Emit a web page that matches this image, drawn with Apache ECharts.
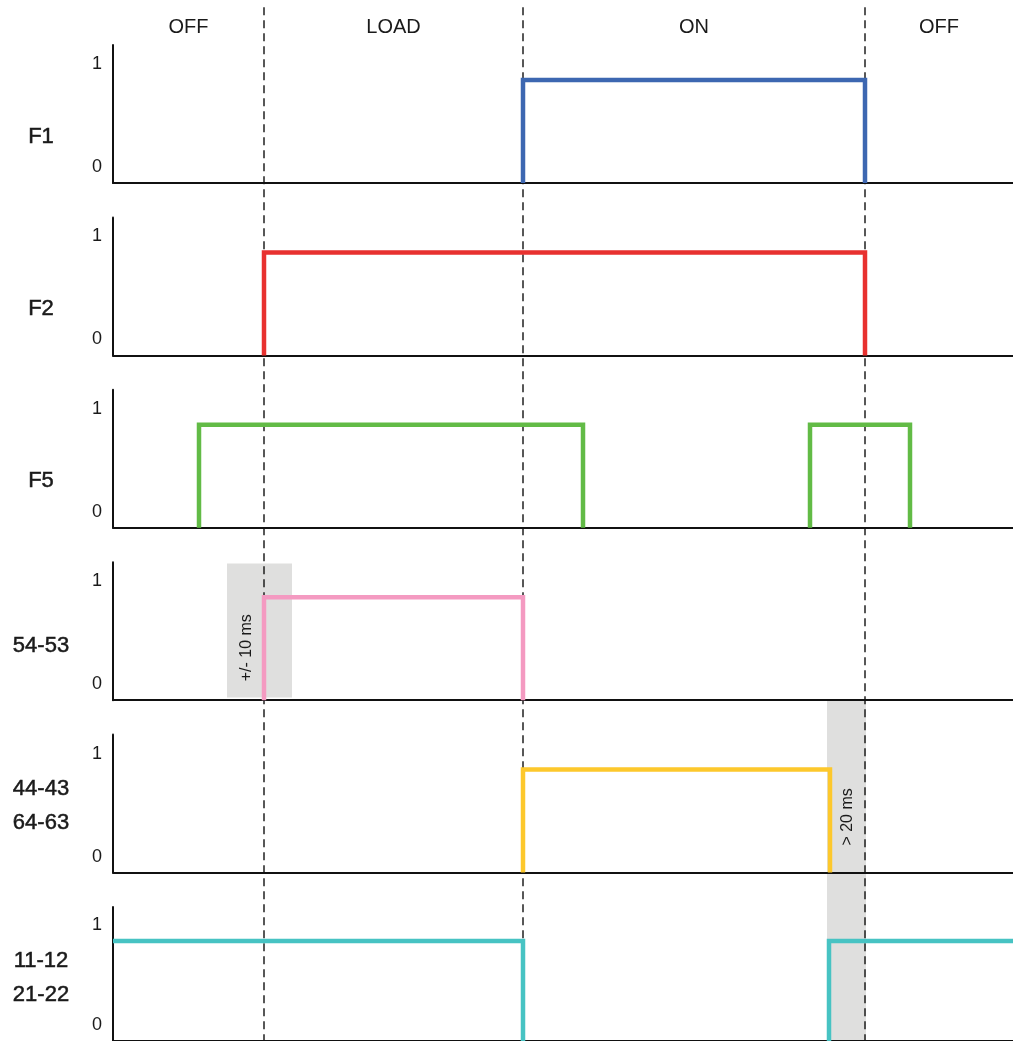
<!DOCTYPE html>
<html>
<head>
<meta charset="utf-8">
<script src="https://cdn.jsdelivr.net/npm/echarts@6/dist/echarts.min.js"></script>
<style>html,body{margin:0;padding:0;background:#fff}#c{width:1013px;height:1041px}</style>
</head>
<body>
<div id="c"></div>
<script>
// ---- data (time units along x; 0..900) ----
const xMin = 0, xMax = 900;
const phaseEdges = [151, 410, 752];
const phaseNames = ['OFF', 'LOAD', 'ON', 'OFF'];
const panelNames = ['F1', 'F2', 'F5', '54-53', '44-43\n64-63', '11-12\n21-22'];
const levelTicks = [0, 1];
const f1Pulses = [[410, 752]];
const f2Pulses = [[151, 752]];
const f5Pulses = [[86, 470], [697, 797]];
const k5453Pulses = [[151, 410]];
const k4443Pulses = [[410, 717]];
const k1112Pulses = [[0, 410], [716, 900]];
// tolerance bands: [x0, x1, panelPos0, panelPos1] (panel i spans i..i+1)
const bands = [[114, 179, 3.22, 4.0], [714, 753, 4.01, 6.0]];
const bandLabels = ['+/- 10 ms', '> 20 ms'];
const bandLabelPos = [[134, 3.71], [735, 4.695]];

// ---- styles / layout ----
const colors = ['#3d67b1', '#e8312f', '#62bb46', '#f49ac1', '#fdc82c', '#47c3c3'];
const pulses = [f1Pulses, f2Pulses, f5Pulses, k5453Pulses, k4443Pulses, k1112Pulses];
const nameRowPos = [0.733, 0.737, 0.74, 0.697, 0.631, 0.634];
const nameX = -72;
const FONT = '"Liberation Sans", Arial, Helvetica, sans-serif';
const step = 172.4, firstBase = 183, panelH = 138, yMaxVal = 1.34;

const grids = [], xAxes = [], yAxes = [], series = [];
panelNames.forEach((nm, i) => {
  const base = firstBase + step * i;
  grids.push({ left: 113, right: 0, top: base - panelH, height: panelH });
  xAxes.push({
    gridIndex: i, type: 'value', min: xMin, max: xMax, z: 2,
    axisLine: { show: true, onZero: false, lineStyle: { color: '#111', width: 2 } },
    axisTick: { show: false }, axisLabel: { show: false }, splitLine: { show: false }
  });
  yAxes.push({
    gridIndex: i, type: 'value', min: 0, max: yMaxVal, z: 2,
    axisLine: { show: true, lineStyle: { color: '#111', width: 2 } },
    axisTick: { show: false }, splitLine: { show: false },
    axisLabel: {
      customValues: levelTicks, fontFamily: FONT, fontSize: 18, color: '#1a1a1a', margin: 11,
      verticalAlign: 'bottom', padding: [0, 0, 7, 0]
    }
  });
  pulses[i].forEach(p => {
    const pts = [];
    if (p[0] > xMin) pts.push([p[0], 0]);
    pts.push([p[0], 1]);
    pts.push([p[1], 1]);
    if (p[1] < xMax) pts.push([p[1], 0]);
    series.push({
      type: 'line', xAxisIndex: i, yAxisIndex: i, data: pts, symbol: 'none', z: 3,
      lineStyle: { color: colors[i], width: 4.5, join: 'miter', cap: 'butt' },
      silent: true
    });
  });
});

// overlay grid spanning full height (panel units)
const ov = panelNames.length;
const ovMin = -0.02, ovMax = 6;
grids.push({ left: 113, right: 0, top: firstBase - step + ovMin * step, height: (ovMax - ovMin) * step });
xAxes.push({ gridIndex: ov, type: 'value', min: xMin, max: xMax, show: false });
yAxes.push({ gridIndex: ov, type: 'value', min: ovMin, max: ovMax, inverse: true, show: false });

series.push({
  type: 'custom', xAxisIndex: ov, yAxisIndex: ov, z: 0, silent: true, clip: false,
  data: bands,
  renderItem: (params, api) => {
    const a = api.coord([api.value(0), api.value(2)]);
    const b = api.coord([api.value(1), api.value(3)]);
    return { type: 'rect', shape: { x: a[0], y: a[1], width: b[0] - a[0], height: b[1] - a[1] },
      style: { fill: '#dfdfde' } };
  }
});
series.push({
  type: 'custom', xAxisIndex: ov, yAxisIndex: ov, z: 1, silent: true, clip: false,
  data: phaseEdges.map(x => [x]),
  renderItem: (params, api) => {
    const a = api.coord([api.value(0), ovMin]);
    const b = api.coord([api.value(0), ovMax]);
    return { type: 'line', shape: { x1: a[0], y1: a[1], x2: b[0], y2: b[1] },
      style: { stroke: '#111', lineWidth: 1.4, lineDash: [8, 5] } };
  }
});
const bounds = [xMin].concat(phaseEdges, [xMax]);
const textSeries = (data, label) => ({
  type: 'scatter', xAxisIndex: ov, yAxisIndex: ov, symbolSize: 0, z: 5, silent: true, clip: false,
  itemStyle: { opacity: 1 }, data: data,
  label: Object.assign({ show: true, position: 'inside', formatter: '{b}', fontFamily: FONT, color: '#1a1a1a' }, label)
});
series.push(textSeries(
  phaseNames.map((n, k) => ({ name: n, value: [(bounds[k] + bounds[k + 1]) / 2, 0.101] })),
  { fontSize: 20 }));
series.push(textSeries(
  bandLabels.map((n, k) => ({ name: n, value: bandLabelPos[k] })),
  { fontSize: 16, rotate: 90 }));
series.push(textSeries(
  panelNames.map((n, i) => ({ name: n, value: [nameX, i + nameRowPos[i]] })),
  { fontSize: 22, lineHeight: 34, align: 'center', verticalAlign: 'middle',
    textBorderColor: '#1a1a1a', textBorderWidth: 0.5 }));

const chart = echarts.init(document.getElementById('c'), null, { renderer: 'canvas' });
chart.setOption({
  animation: false, backgroundColor: '#fff',
  grid: grids, xAxis: xAxes, yAxis: yAxes, series: series
});
</script>
</body>
</html>
